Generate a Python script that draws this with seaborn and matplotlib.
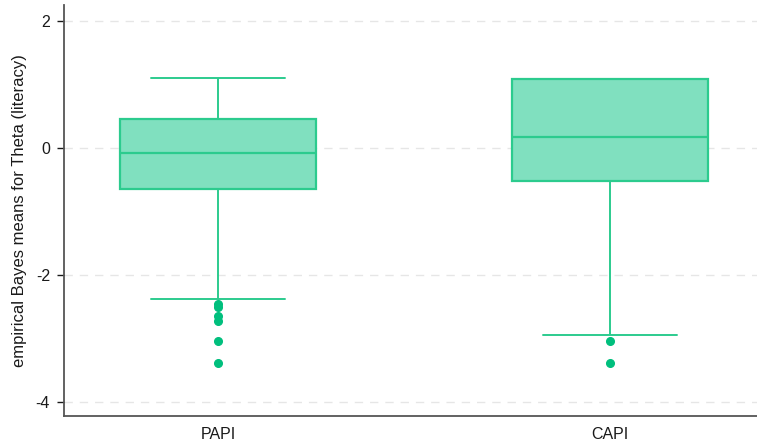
import numpy as np
import pandas as pd
import matplotlib
matplotlib.use("Agg")
import matplotlib.pyplot as plt
import seaborn as sns

# Summary of the empirical Bayes theta estimates by interview mode
modes = ["PAPI", "CAPI"]
whisker_low = [-2.38, -2.95]
q1 = [-0.65, -0.52]
median = [-0.075, 0.178]
q3 = [0.457, 1.087]
whisker_high = [1.107, 1.087]
outliers = [
    [-2.45, -2.50, -2.65, -2.73, -3.04, -3.38],
    [-3.04, -3.38],
]

FILL = "#80E0BF"
EDGE = "#2CCB8E"
DOT = "#00BF7D"


def mode_sample(outs, lo, a, med, b, hi):
    """Values whose linear-interpolated quartiles are exactly a, med, b."""
    k = len(outs)
    m = k + 1
    vals = sorted(outs) + [lo] + [a] + [med] * m + [b] * (2 * m - 1) + [hi]
    return vals


frames = []
for i, mode in enumerate(modes):
    vals = mode_sample(outliers[i], whisker_low[i], q1[i], median[i], q3[i], whisker_high[i])
    frames.append(pd.DataFrame({"mode": mode, "theta": vals}))
df = pd.concat(frames, ignore_index=True)

sns.set_theme(style="ticks")
plt.rcParams["font.family"] = ["Liberation Sans", "DejaVu Sans"]

fig = plt.figure(figsize=(7.57, 4.43), dpi=100)
ax = fig.add_axes([64 / 757, 27 / 443, 1 - 64 / 757, (416 - 5) / 443])

for y in [-4, -2, 0, 2]:
    ax.axhline(y, color="#E6E6E6", lw=1.0, ls=(0, (6, 5)), zorder=0)

for i, mode in enumerate(modes):
    iqr = q3[i] - q1[i]
    # whisker reach sits between the last whisker point and the first outlier
    reach = ((q1[i] - whisker_low[i]) + (q1[i] - max(outliers[i]))) / 2 / iqr
    sns.boxplot(
        data=df[df["mode"] == mode], x="mode", y="theta", order=modes,
        width=0.5, whis=reach, color=FILL, linecolor=EDGE, linewidth=1.4,
        saturation=1, ax=ax, capwidths=0.34,
        boxprops=dict(facecolor=FILL, edgecolor=EDGE, linewidth=1.6),
        medianprops=dict(color=EDGE, linewidth=1.6),
        flierprops=dict(marker="o", markersize=5.5, markerfacecolor=DOT,
                        markeredgecolor=DOT),
    )

ax.set_xlim(-0.393, 1.375)
ax.set_ylim(-4.22, 2.252)
ax.set_yticks([-4, -2, 0, 2])
ax.set_yticklabels(["-4", "-2", "0", "2"])
ax.set_xlabel("")
ax.set_ylabel("empirical Bayes means for Theta (literacy)", fontsize=12, color="#1a1a1a", labelpad=6)
ax.tick_params(axis="y", labelsize=11.5, colors="#1a1a1a", length=5, width=1, pad=5)
ax.tick_params(axis="x", labelsize=11.5, colors="#1a1a1a", length=0, pad=8)
for side in ["top", "right"]:
    ax.spines[side].set_visible(False)
for side in ["left", "bottom"]:
    ax.spines[side].set_color("#555555")
    ax.spines[side].set_linewidth(1.3)

fig.savefig("out.png", dpi=100)
